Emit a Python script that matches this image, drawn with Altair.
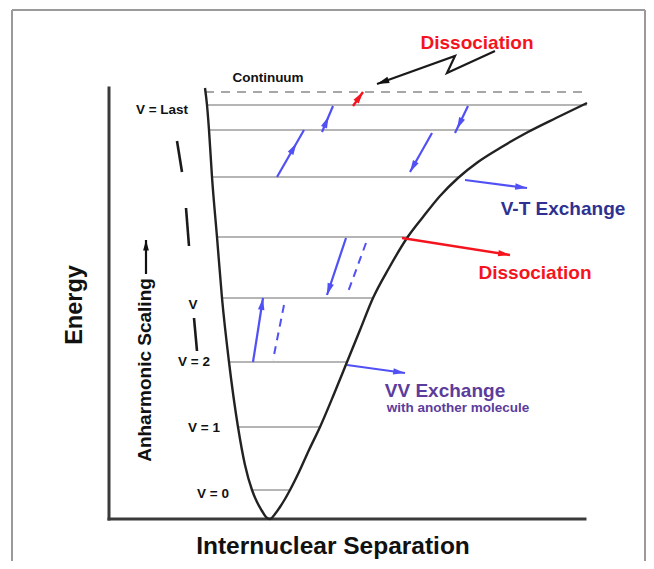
import math
import altair as alt
import pandas as pd

# ---------------- data (diagram units: separation X, energy Y) ----------------
# potential well curve (left wall then right branch)
curve_x = [96, 98, 100, 103, 108, 113, 120, 129, 136, 143, 148, 153, 157, 161,
           166, 171, 176, 181, 190, 200, 211, 225, 238, 251, 264, 280, 298, 314, 331,
           349, 369, 391, 419, 447, 478]
curve_y = [431, 414, 389, 342, 282, 221, 157, 92, 54, 29, 17, 8, 2, 0,
           5, 12, 20, 29, 47, 69, 92, 125, 157, 189, 221, 251, 281, 302, 323,
           341, 357, 371, 387, 401, 416]

# vibrational levels
level_y = [414, 389, 342, 282, 221, 157, 92, 29]
level_x1 = [98, 100, 103, 108, 113, 120, 129, 143]
level_x2 = [478, 423, 349, 300, 265, 238, 211, 181]

# continuum (dashed)
cont_y = [427]
cont_x1 = [96]
cont_x2 = [478]

# arrows: tail (x,y) -> tip (x,y), head fraction along shaft
blue_arrows = [
    (168, 342, 195, 389, 0.72),
    (213, 387, 224, 413, 0.6),
    (323, 386, 301, 347, 1.0),
    (359, 413, 346, 386, 0.85),
    (237, 281, 218, 224, 1.0),
    (144, 157, 154, 221, 1.0),
    (356, 339, 418, 331, 1.0),
    (238, 154, 296, 146, 1.0),
]
blue_dashed = [
    (257, 276, 239, 227),
    (175, 214, 164, 159),
]
red_arrows = [
    (244, 413, 254, 427, 1.0),
    (293, 281, 401, 264, 1.0),
]
black_arrows = [
    (37, 245, 37, 279, 1.0),
]
zig_x = [386, 338, 346, 268]
zig_y = [468, 446, 463, 435]

# ellipsis dashes beside the level labels
dash_x1 = [68, 77, 85]
dash_y1 = [378, 311, 201]
dash_x2 = [73, 80, 88]
dash_y2 = [347, 273, 168]

# labels
level_labels = ["V = Last", "V", "V = 2", "V = 1", "V = 0", "Continuum"]
level_label_x = [53, 84, 85, 95, 104, 159]
level_label_y = [409, 214, 157, 91, 25, 441]

# ---------------- scales ----------------
W, H = 638, 553
xs = alt.Scale(domain=[-101, 537], range=[0, W], zero=False, nice=False)
ys = alt.Scale(domain=[-42, 511], range=[H, 0], zero=False, nice=False)

FONT = "Liberation Sans"
BLUE = "#5050f5"
RED = "#f5141e"


def X(f):
    return alt.X(f, type="quantitative", scale=xs, axis=None)


def Y(f):
    return alt.Y(f, type="quantitative", scale=ys, axis=None)


layers = []

# frame
frame = pd.DataFrame({
    "x": [-97, -97, 536], "x2": [536, -97, 536],
    "y": [509, 509, 509], "y2": [509, -60, -60],
})
layers.append(alt.Chart(frame).mark_rule(color="#9a9a9a", strokeWidth=2).encode(
    x=X("x"), x2="x2", y=Y("y"), y2="y2"))

# axes
axes = pd.DataFrame({"x": [0, 0], "x2": [0, 476], "y": [431, 0], "y2": [0, 0]})
layers.append(alt.Chart(axes).mark_rule(color="#3a3a3a", strokeWidth=3, strokeCap="square").encode(
    x=X("x"), x2="x2", y=Y("y"), y2="y2"))

# levels
lv = pd.DataFrame({"x": level_x1, "x2": level_x2, "y": level_y})
layers.append(alt.Chart(lv).mark_rule(color="#9c9c9c", strokeWidth=1.6).encode(
    x=X("x"), x2="x2", y=Y("y")))
cv = pd.DataFrame({"x": cont_x1, "x2": cont_x2, "y": cont_y})
layers.append(alt.Chart(cv).mark_rule(color="#8a8a8a", strokeWidth=1.6, strokeDash=[9, 7]).encode(
    x=X("x"), x2="x2", y=Y("y")))

# curve
cd = pd.DataFrame({"x": curve_x, "y": curve_y, "o": list(range(len(curve_x)))})
layers.append(alt.Chart(cd).mark_line(color="#222222", strokeWidth=2.4, interpolate="monotone").encode(
    x=X("x"), y=Y("y"), order="o:Q"))

# dashes
dd = pd.DataFrame({"x": dash_x1, "y": dash_y1, "x2": dash_x2, "y2": dash_y2})
layers.append(alt.Chart(dd).mark_rule(color="#1a1a1a", strokeWidth=2.6).encode(
    x=X("x"), y=Y("y"), x2="x2", y2="y2"))

# zigzag
zd = pd.DataFrame({"x": zig_x, "y": zig_y, "o": list(range(len(zig_x)))})
layers.append(alt.Chart(zd).mark_line(color="#1a1a1a", strokeWidth=2.2).encode(
    x=X("x"), y=Y("y"), order="o:Q"))


def heads(arrows, hl):
    rows = []
    for (x1, y1, x2, y2, f) in arrows:
        dx, dy = x2 - x1, y2 - y1
        L = math.hypot(dx, dy)
        ux, uy = dx / L, dy / L
        cx = x1 + dx * f - ux * hl / 2
        cy = y1 + dy * f - uy * hl / 2
        ang = math.degrees(math.atan2(dx, dy)) % 360
        rows.append({"x": cx, "y": cy, "a": ang})
    return pd.DataFrame(rows)


HEAD = "M0,-1L0.55,1L-0.55,1Z"


def arrow_layers(arrows, color, width, size):
    df = pd.DataFrame([{"x": a[0], "y": a[1], "x2": a[2], "y2": a[3]} for a in arrows])
    shaft = alt.Chart(df).mark_rule(color=color, strokeWidth=width).encode(
        x=X("x"), y=Y("y"), x2="x2", y2="y2")
    hl = math.sqrt(size)
    hd = alt.Chart(heads(arrows, hl)).mark_point(
        shape=HEAD, filled=True, color=color, opacity=1, size=size, strokeWidth=0).encode(
        x=X("x"), y=Y("y"), angle=alt.Angle("a:Q", scale=None))
    return [shaft, hd]


layers += arrow_layers(blue_arrows, BLUE, 2.2, 140)
layers += arrow_layers(red_arrows, RED, 2.4, 140)
layers += arrow_layers(black_arrows, "#111111", 2.2, 110)
# zigzag head
zh = [(zig_x[-2], zig_y[-2], zig_x[-1], zig_y[-1], 1.0)]
layers.append(alt.Chart(heads(zh, math.sqrt(150))).mark_point(
    shape=HEAD, filled=True, color="#111111", opacity=1, size=150, strokeWidth=0).encode(
    x=X("x"), y=Y("y"), angle=alt.Angle("a:Q", scale=None)))

dbl = pd.DataFrame([{"x": a[0], "y": a[1], "x2": a[2], "y2": a[3]} for a in blue_dashed])
layers.append(alt.Chart(dbl).mark_rule(color=BLUE, strokeWidth=2, strokeDash=[8, 6]).encode(
    x=X("x"), y=Y("y"), x2="x2", y2="y2"))

# level labels
ld = pd.DataFrame({"t": level_labels, "x": level_label_x, "y": level_label_y})
layers.append(alt.Chart(ld).mark_text(font=FONT, fontSize=13.5, fontWeight="bold", color="#111111",
                                      baseline="middle", align="center").encode(
    x=X("x"), y=Y("y"), text="t:N"))


def label(text, x, y, size, color, angle=0):
    d = pd.DataFrame({"t": [text], "x": [x], "y": [y]})
    return alt.Chart(d).mark_text(font=FONT, fontSize=size, fontWeight="bold", color=color,
                                  baseline="middle", align="center", angle=angle).encode(
        x=X("x"), y=Y("y"), text="t:N")


layers.append(label("Dissociation", 368, 476, 19, RED))
layers.append(label("Dissociation", 426, 246, 19, RED))
layers.append(label("V-T Exchange", 454, 310, 19, "#2e3192"))
layers.append(label("VV Exchange", 336, 128, 19, "#5c3c9c"))
layers.append(label("with another molecule", 349, 111, 13.5, "#5c3c9c"))
layers.append(label("Energy", -34, 214, 23.5, "#111111", 270))
layers.append(label("Anharmonic Scaling", 36, 149, 19, "#111111", 270))
layers.append(label("Internuclear Separation", 224, -28, 24.5, "#111111"))

chart = alt.layer(*layers).properties(
    width=W, height=H,
    autosize=alt.AutoSizeParams(type="none"),
    padding=0,
).configure_view(stroke=None)

chart.save("out.html", embed_options={"renderer": "svg", "actions": False})
